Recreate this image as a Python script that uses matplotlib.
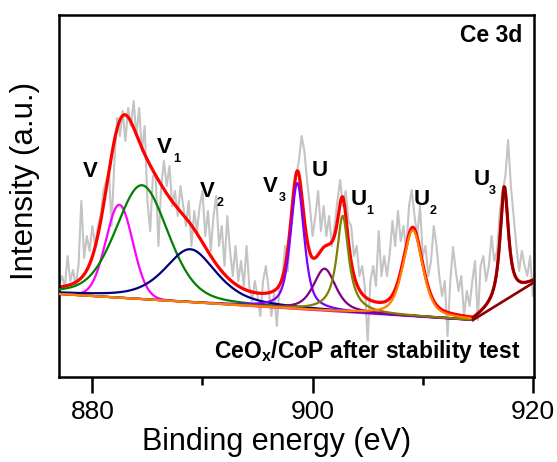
import numpy as np
import matplotlib.pyplot as plt

plt.rcParams['font.family'] = 'Liberation Sans'
plt.rcParams['mathtext.fontset'] = 'custom'
plt.rcParams['mathtext.rm'] = 'Liberation Sans'
plt.rcParams['mathtext.bf'] = 'Liberation Sans:bold'
plt.rcParams['mathtext.it'] = 'Liberation Sans:italic'

# raw Ce 3d spectrum, 0.25 eV steps from 877.0 eV
be_start = 877.0
be_step = 0.25
raw = [92, 100, 88, 120, 95, 106, 90, 112, 175, 118, 140, 125, 150, 130,
       150, 160, 185, 195, 205, 150, 215, 258, 240, 265, 235, 268, 250, 275,
       240, 268, 225, 250, 175, 145, 200, 200, 130, 190, 215, 190, 210, 170,
       185, 160, 190, 170, 150, 175, 130, 165, 145,
       170, 185, 140, 165, 125, 160, 180, 130, 150, 110, 160, 125, 100, 130,
       95, 115, 90, 130, 90, 75, 95, 80, 60, 95, 110, 88, 60, 82, 50, 90,
       100, 130, 105, 155, 185, 200, 215, 240, 225, 195, 170, 140, 160, 185,
       145, 170, 140, 160, 130,
       150, 175, 196, 170, 185, 155, 150, 120, 130, 100, 110, 88, 35, 95,
       110, 90, 145, 100, 120, 100, 122, 155, 130, 165, 135,
       150, 125, 170, 186, 160, 140, 170, 120, 130, 100, 115, 150, 130, 100,
       80, 95, 40, 95, 129, 105, 85, 100, 60, 85, 70, 95,
       115, 56, 110, 120, 95, 110, 140, 115, 125, 165, 185, 200, 236, 190,
       160, 130, 105, 125, 110, 100, 120, 80, 95]

# fitted components: position (eV), height, FWHM (eV), Lorentzian fraction
labels = ['V', 'V1', 'V2', 'V3', 'U', 'U1', 'U2', 'U3']
centers = [882.45, 884.5, 888.9, 898.61, 901.09, 902.73, 909.1, 917.4]
heights = [93, 114, 53, 126, 42, 96, 86, 114]
fwhm = [2.9, 5.6, 5.6, 1.45, 2.4, 1.3, 2.1, 0.9]
eta = [0.05, 0.3, 0.6, 0.6, 0.6, 1.0, 0.5, 0.9]
colors = ['#ff00ff', '#008000', '#000080', '#8000ff', '#800080',
          '#808000', '#ff8000', '#8b0000']

# linear backgrounds (eV, intensity)
bg_main = [(877.0, 82), (914.55, 56)]
bg_u3 = [(914.55, 56), (920.0, 93)]


def pseudo_voigt(x, c, h, w, m):
    d = ((x - c) / w) ** 2
    return h * (m / (1 + 4 * d) + (1 - m) * np.exp(-4 * np.log(2) * d))


def background(x, pts):
    (x0, y0), (x1, y1) = pts
    return y0 + (y1 - y0) * (x - x0) / (x1 - x0)


be = be_start + be_step * np.arange(len(raw))
x1 = np.linspace(bg_main[0][0], bg_main[1][0], 800)
x2 = np.linspace(bg_u3[0][0], bg_u3[1][0], 200)
b1 = background(x1, bg_main)
b2 = background(x2, bg_u3)

fig = plt.figure(figsize=(5.57, 4.62), dpi=100)
ax = fig.add_axes([0.1065, 0.1846, 0.8514, 0.7829])

ax.plot(be, raw, color='#c4c4c4', lw=1.5, zorder=1)

env1 = b1.copy()
for i in range(7):
    env1 += pseudo_voigt(x1, centers[i], heights[i], fwhm[i], eta[i])
env2 = b2 + pseudo_voigt(x2, centers[7], heights[7], fwhm[7], eta[7])
ax.plot(np.r_[x1, x2], np.r_[env1, env2], color='#ff0000', lw=2.3, zorder=2)

for i in range(7):
    ax.plot(x1, b1 + pseudo_voigt(x1, centers[i], heights[i], fwhm[i], eta[i]),
            color=colors[i], lw=1.6, zorder=3)
ax.plot(x2, b2 + pseudo_voigt(x2, centers[7], heights[7], fwhm[7], eta[7]),
        color=colors[7], lw=1.9, zorder=3)
ax.plot(x2, b2, color=colors[7], lw=1.9, zorder=3)

# peak labels, letter plus a small dropped index
lab_x = [879.13, 885.88, 889.79, 895.52, 899.95, 903.43, 909.15, 914.58]
lab_y = [199, 223, 179, 184, 200, 171, 171, 191]
for name, lx, ly in zip(labels, lab_x, lab_y):
    ax.text(lx, ly, name[0], fontsize=16, fontweight='bold',
            ha='left', va='baseline')
    if len(name) > 1:
        ax.annotate(name[1], xy=(lx, ly), xytext=(11.5, -6.5),
                    textcoords='offset points', fontsize=9,
                    fontweight='bold', ha='left', va='baseline')

ax.text(0.9758, 0.9254, 'Ce 3d', transform=ax.transAxes, fontsize=16.5,
        fontweight='bold', ha='right', va='baseline')
ax.text(0.9715, 0.0517, r'CeO$_\mathbf{x}$/CoP after stability test',
        transform=ax.transAxes, fontsize=16.5, fontweight='bold',
        ha='right', va='baseline')

ax.set_xlim(877.0, 920.06)
ax.set_ylim(-0.7, 361)
ax.set_xticks([880, 900, 920])
ax.set_xticks([890, 910], minor=True)
ax.set_yticks([])
ax.tick_params(axis='x', which='major', direction='out', length=11.5,
               width=1.8, labelsize=19, pad=5)
ax.tick_params(axis='x', which='minor', direction='out', length=6, width=1.8)
for sp in ax.spines.values():
    sp.set_linewidth(1.8)

ax.set_xlabel('Binding energy (eV)', fontsize=22)
ax.set_ylabel('Intensity (a.u.)', fontsize=22.5)
ax.xaxis.set_label_coords(0.459, -0.140)
ax.yaxis.set_label_coords(-0.040, 0.541)

fig.savefig('out.png', dpi=100)
